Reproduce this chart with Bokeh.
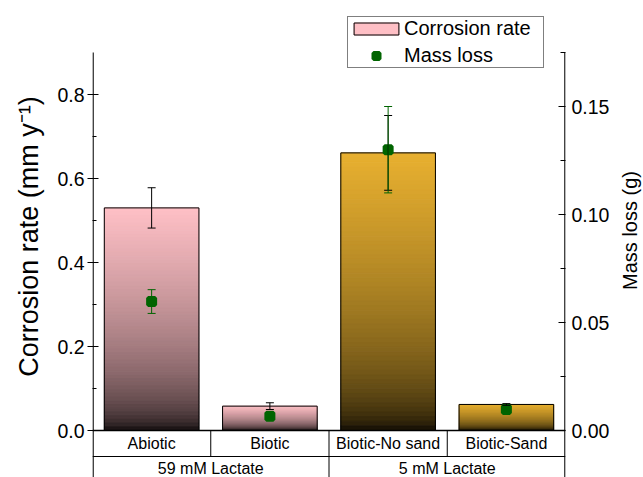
import numpy as np
from bokeh.plotting import figure
from bokeh.layouts import row
from bokeh.models import (FactorRange, Range1d, LinearAxis, FixedTicker, Whisker,
                          TeeHead, ColumnDataSource, Legend, LegendItem)
from bokeh.embed import file_html
from bokeh.resources import INLINE
from bokeh.core.properties import value

# ---------------- data ----------------
groups = ["59 mM Lactate", "59 mM Lactate", "5 mM Lactate", "5 mM Lactate"]
conditions = ["Abiotic", "Biotic", "Biotic-No sand", "Biotic-Sand"]
corrosion_rate = [0.530, 0.058, 0.661, 0.062]
corrosion_err = [0.048, 0.008, 0.089, 0.002]
mass_loss = [0.0597, 0.0066, 0.1300, 0.0097]
mass_loss_err = [0.0055, 0.0010, 0.0200, 0.0008]
bar_top_colors = ["#FFC0C6", "#FFC0C6", "#E8B030", "#E8B030"]
left_ticks = [0.0, 0.2, 0.4, 0.6, 0.8]
left_tick_labels = ["0.0", "0.2", "0.4", "0.6", "0.8"]
left_minor_ticks = [0.1, 0.3, 0.5, 0.7]
right_ticks = [0.0, 0.05, 0.10, 0.15]
right_tick_labels = ["0.00", "0.05", "0.10", "0.15"]
right_minor_ticks = [0.025, 0.075, 0.125, 0.175]
left_title = "Corrosion rate (mm y\u207b\u00b9)"
right_title = "Mass loss (g)"

# ---------------- layout constants ----------------
FONT = "Liberation Sans"
H = 477
PX_PER_UNIT = 420.0
ZERO_PX = 430.0
Y_AXIS_TOP = 0.9
Y_END = ZERO_PX / PX_PER_UNIT
Y_START = -(H - ZERO_PX) / PX_PER_UNIT
M_SCALE = 0.175 / 0.9
ROW_SPLIT = -26 / PX_PER_UNIT
ROW1_Y = -12.5 / PX_PER_UNIT
ROW2_Y = -37.5 / PX_PER_UNIT
EPS = 0.005

factors = list(zip(groups, conditions))
x_range = FactorRange(*factors, factor_padding=0, group_padding=0,
                      subgroup_padding=0, range_padding=0)

p = figure(x_range=x_range, y_range=Range1d(Y_START, Y_END),
           width=570, height=H, output_backend="svg", toolbar_location=None,
           title=None, x_axis_location=None, y_axis_location="left",
           min_border_left=47, min_border_right=50, min_border_top=0,
           min_border_bottom=0)
p.extra_y_ranges = {"mass": Range1d(Y_START * M_SCALE, Y_END * M_SCALE)}
p.xgrid.visible = False
p.ygrid.visible = False
p.outline_line_color = None
p.background_fill_color = "white"

# ---------------- gradient bars ----------------
def hex_rgb(h):
    h = h.lstrip("#")
    return tuple(int(h[i:i + 2], 16) for i in (0, 2, 4))

N = 60
sx, sb, st, sc = [], [], [], []
for f, v, c in zip(factors, corrosion_rate, bar_top_colors):
    rgb = hex_rgb(c)
    for k in range(N - 1, -1, -1):
        frac = (k + 0.5) / N
        s = frac ** 0.45
        col = "#%02x%02x%02x" % tuple(int(round(ch * s)) for ch in rgb)
        sx.append(f)
        sb.append(v * k / N)
        st.append(v * (k + 1) / N)
        sc.append(col)

slices = p.vbar(x=sx, bottom=sb, top=st, width=0.8, fill_color=sc,
                line_color=sc, line_width=1)
outline = p.vbar(x=factors, top=corrosion_rate, width=0.8, fill_color=None,
                 line_color="black", line_width=1)

pts = p.scatter(x=factors, y=mass_loss, marker="square", size=7,
                fill_color="#006400", line_color="#006400", line_width=4,
                y_range_name="mass")

# ---------------- error bars ----------------
src = ColumnDataSource(dict(
    x=factors,
    up=[v + e for v, e in zip(corrosion_rate, corrosion_err)],
    lo=[v - e for v, e in zip(corrosion_rate, corrosion_err)],
    mup=[v + e for v, e in zip(mass_loss, mass_loss_err)],
    mlo=[v - e for v, e in zip(mass_loss, mass_loss_err)],
))
p.add_layout(Whisker(base="x", upper="up", lower="lo", source=src, level="annotation",
                     line_color="black", line_width=1,
                     upper_head=TeeHead(size=8, line_color="black", line_width=1),
                     lower_head=TeeHead(size=8, line_color="black", line_width=1)))
p.add_layout(Whisker(base="x", upper="mup", lower="mlo", source=src, level="annotation",
                     y_range_name="mass", line_color="#006400", line_width=1,
                     upper_head=TeeHead(size=8, line_color="#006400", line_width=1),
                     lower_head=TeeHead(size=8, line_color="#006400", line_width=1)))

# ---------------- axis lines and category table ----------------
left_edge = (factors[0][0], factors[0][1], -0.5)
right_edge = (factors[-1][0], factors[-1][1], 0.5)
left_line = (factors[0][0], factors[0][1], -0.5 + EPS)
right_line = (factors[-1][0], factors[-1][1], 0.5 - EPS)
p.segment(x0=[left_line, right_line], y0=[Y_START, Y_START],
          x1=[left_line, right_line], y1=[Y_AXIS_TOP, Y_AXIS_TOP],
          line_color="black", line_width=1.3)
p.segment(x0=[left_edge], y0=[0], x1=[right_edge], y1=[0],
          line_color="black", line_width=1.5)
p.segment(x0=[left_edge], y0=[ROW_SPLIT], x1=[right_edge], y1=[ROW_SPLIT],
          line_color="black", line_width=1)
seps = [(f[0], f[1], -0.5) for f in factors[1:]]
p.segment(x0=seps, y0=[ROW_SPLIT] * len(seps), x1=seps, y1=[0] * len(seps),
          line_color="black", line_width=1)
group_names = []
for g in groups:
    if g not in group_names:
        group_names.append(g)
gsep = [(f[0], f[1], -0.5) for i, f in enumerate(factors)
        if i > 0 and f[0] != factors[i - 1][0]]
p.segment(x0=gsep, y0=[Y_START] * len(gsep), x1=gsep, y1=[ROW_SPLIT] * len(gsep),
          line_color="black", line_width=1)

p.text(x=factors, y=[ROW1_Y] * len(factors), text=conditions,
       text_align="center", text_baseline="middle",
       text_font=value(FONT), text_font_size="16px", text_color="black")
p.text(x=group_names, y=[ROW2_Y] * len(group_names), text=group_names,
       text_align="center", text_baseline="middle",
       text_font=value(FONT), text_font_size="16px", text_color="black")

# ---------------- axes ----------------
ya = p.yaxis[0]
ya.ticker = FixedTicker(ticks=left_ticks, minor_ticks=left_minor_ticks)
ya.major_label_overrides = dict(zip(left_ticks, left_tick_labels))
ya.axis_line_color = None
ya.major_tick_in = 6
ya.major_tick_out = 5
ya.minor_tick_in = 4
ya.minor_tick_out = 0
ya.major_tick_line_width = 1.2
ya.minor_tick_line_width = 1
ya.major_label_standoff = 3
ya.major_label_text_font = FONT
ya.major_label_text_font_size = "19.5px"
ya.major_label_text_color = "black"

ra = LinearAxis(y_range_name="mass")
ra.ticker = FixedTicker(ticks=right_ticks, minor_ticks=right_minor_ticks)
ra.major_label_overrides = dict(zip(right_ticks, right_tick_labels))
ra.axis_line_color = None
ra.major_tick_in = 7
ra.major_tick_out = 0
ra.minor_tick_in = 5
ra.minor_tick_out = 0
ra.major_tick_line_width = 1.2
ra.minor_tick_line_width = 1
ra.major_label_standoff = 6
ra.major_label_text_font = FONT
ra.major_label_text_font_size = "19.5px"
ra.major_label_text_color = "black"
p.add_layout(ra, "right")

# ---------------- legend ----------------
legend = Legend(items=[LegendItem(label="Corrosion rate", renderers=[slices, outline], index=0),
                       LegendItem(label="Mass loss", renderers=[pts], index=0)],
                location=(255, 409), orientation="vertical",
                border_line_color="black", border_line_width=1,
                background_fill_color="white", background_fill_alpha=1,
                padding=0, margin=0, spacing=4, glyph_width=56, glyph_height=15,
                label_standoff=0, label_width=139, label_height=22,
                label_text_font=FONT, label_text_font_size="20px",
                label_text_color="black")
p.add_layout(legend)

# ---------------- axis titles (side panels) ----------------
def side_panel(w):
    f = figure(width=w, height=H, x_range=Range1d(0, w), y_range=Range1d(H, 0),
               output_backend="svg", toolbar_location=None, title=None,
               x_axis_location=None, y_axis_location=None,
               min_border_left=0, min_border_right=0, min_border_top=0,
               min_border_bottom=0)
    f.xgrid.visible = False
    f.ygrid.visible = False
    f.outline_line_color = None
    return f

lp = side_panel(45)
lp.text(x=[28], y=[236], text=[left_title], angle=np.pi / 2,
        text_align="center", text_baseline="alphabetic",
        text_font=value(FONT), text_font_size="27px", text_color="black")
rp = side_panel(28)
rp.text(x=[14], y=[230], text=[right_title], angle=np.pi / 2,
        text_align="center", text_baseline="alphabetic",
        text_font=value(FONT), text_font_size="20px", text_color="black")

layout = row(lp, p, rp)
open("out.html", "w").write(file_html(layout, INLINE))
